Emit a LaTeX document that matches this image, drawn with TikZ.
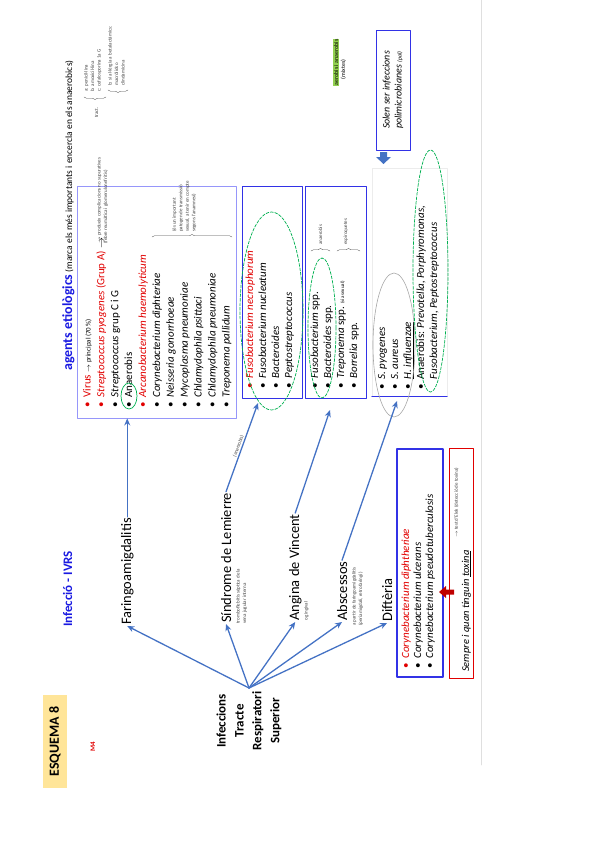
\documentclass[tikz,border=0pt]{standalone}
\usepackage{fontspec}
\setmainfont{Carlito}
\usetikzlibrary{arrows.meta,decorations.pathreplacing,positioning}
\definecolor{hblue}{RGB}{25,25,225}
\definecolor{arrblue}{RGB}{68,114,196}
\definecolor{boxblue}{RGB}{50,50,230}
\definecolor{boxlight}{RGB}{150,150,250}
\definecolor{ellgreen}{RGB}{0,176,80}
\definecolor{hlgreen}{RGB}{146,208,80}
\definecolor{esqyellow}{RGB}{255,229,153}
\definecolor{tred}{RGB}{225,0,0}
\begin{document}
\begin{tikzpicture}[x=1bp, y=-1bp, line join=round, line cap=round, >={Stealth[length=7bp,width=6bp]},
	lbl/.style={rotate=90, anchor=base west, inner sep=1pt},
	dis/.style={lbl, font=\fontsize{14.5}{17}\selectfont},
	item/.style={lbl, font=\fontsize{11}{13}\selectfont},
	note/.style={rotate=90, anchor=north west, inner sep=0pt, align=left, text=black!75, font=\fontsize{5}{6.5}\selectfont},
	arr/.style={->, draw=arrblue, line width=1.3pt},
	boxb/.style={draw=boxblue, line width=0.9pt, inner sep=0pt},
	elli/.style={draw=ellgreen, line width=0.7pt, dash pattern=on 3pt off 1.5pt},
	brc/.style={decorate, decoration={brace, amplitude=2.5pt}, draw=black!70, line width=0.4pt}]
	\useasboundingbox (0,0) rectangle (599,848);
	\draw[gray!25, line width=0.8pt] (481,0)--(481,765);
	% titols
	\node[fill=esqyellow, rotate=90, minimum width=93bp, minimum height=24bp, inner sep=0pt, font=\bfseries\fontsize{14}{16}\selectfont] (esq) at (55,741.5) {ESQUEMA 8};
	\node[lbl, text=tred, font=\bfseries\fontsize{7}{8}\selectfont] (m4) at (95,753) {M4};
	\node[lbl, text=hblue, font=\bfseries\fontsize{13}{15}\selectfont] (titol) at (72,628) {Infecció - IVRS};
	\node[lbl] (agents) at (72,372) {{\bfseries\color{hblue}\fontsize{14}{16}\selectfont agents etiològics} {\fontsize{9.5}{11}\selectfont (marca els més importants i encercla en els anaerobics)}};
	% tractament
	\node[note, anchor=base west] (tract) at (98,118) {tract.};
	\draw[brc] (106,97)--(84,97);
	\node[note] (tr1) at (84,92) {a: penicil·lina\\b: amoxicil·lina\\c: cefalosporina 1a G};
	\draw[brc] (128,90)--(108,90);
	\node[note] (tr2) at (108,86) {b: si al·lèrgia a betalactàmics:\\macròlids o\\clindamicina};
	% caixes
	\node[boxb, draw=boxlight, minimum width=159bp, minimum height=232bp] (box1) at (156.5,302) {};
	\node[boxb, minimum width=60bp, minimum height=212bp] (box2) at (272,292) {};
	\node[boxb, minimum width=61bp, minimum height=212bp] (box3) at (335.5,292) {};
	\node[draw=gray!15, line width=0.5pt, minimum width=75bp, minimum height=228bp, inner sep=0pt] (box4) at (409.5,282) {};
	\draw[boxblue, line width=0.9pt] (box4.south west)--(box4.south east);
	\node[boxb, line width=1.2pt, minimum width=46bp, minimum height=228bp] (boxd) at (420,563) {};
	\node[draw=tred, line width=0.9pt, minimum width=24bp, minimum height=230bp, inner sep=0pt] (boxt) at (461,563) {};
	% llistes
	\foreach \i/\col/\txt in {0/tred/{\textcolor{tred}{Virus} {\fontsize{7}{8}\selectfont $\rightarrow$ principal (70\,\%)}},
		1/tred/{\textcolor{tred}{\textit{Streptococcus pyogenes} (Grup A)} $\rightarrow$},
		2/black/{\textit{Streptococcus} grup C i G},
		3/black/{Anaerobis},
		4/tred/{\textcolor{tred}{\textit{Arcanobacterium haemolyticum}}},
		5/black/{\textit{Corynebacterium diphteriae}},
		6/black/{\textit{Neisseria gonorrhoeae}},
		7/black/{\textit{Mycoplasma pneumoniae}},
		8/black/{\textit{Chlamydophila psittaci}},
		9/black/{\textit{Chlamydophila pneumoniae}},
		10/black/{\textit{Treponema pallidum}}}
		\node[item] (ag1-\i) at ({90.5+13.9*\i},409) {\textcolor{\col}{\textbullet}\hspace{5pt}\txt};
	\node[note] (pyonote) at (97,244) {$\rightarrow$ produeix complicacions no supuratives\\(febre reumàtica i glomerulonefritis)};
	\draw[ellgreen, line width=0.7pt] (129,396) ellipse [x radius=8bp, y radius=13bp];
	\draw[brc] (152,237)--(232,237);
	\node[note] (b1note) at (172,232) {(és un important\\patogen de transmissió\\sexual, a tenir en compte\\segons l'anamnesi)};
	\foreach \i/\col/\txt in {0/tred/{\textcolor{tred}{\textit{Fusobacterium necrophorum}}},
		1/black/{\textit{Fusobacterium nucleatum}},
		2/black/{\textit{Bacteroides}},
		3/black/{\textit{Peptostreptococcus}}}
		\node[item] (ag2-\i) at ({253+13*\i},390) {\textcolor{\col}{\textbullet}\hspace{5pt}\txt};
	\draw[elli] (271.5,311) ellipse [x radius=31.5bp, y radius=99bp];
	\foreach \i/\txt in {0/{\textit{Fusobacterium} spp.},
		1/{\textit{Bacteroides} spp.},
		2/{\textit{Treponema} spp. {\fontsize{5}{6}\selectfont (via sexual)}},
		3/{\textit{Borrelia} spp.}}
		\node[item] (ag3-\i) at ({318+13*\i},390) {\textbullet\hspace{5pt}\txt};
	\draw[elli] (322,328) ellipse [x radius=14bp, y radius=70bp];
	\draw[brc] (311,251)--(330,251);
	\node[note, anchor=base west] (anae) at (322,245) {anaerobis};
	\draw[brc] (337,251)--(360,251);
	\node[note, anchor=base west] (espi) at (347,245) {espiroquetes};
	\foreach \i/\txt in {0/{\textit{S. pyogenes}},
		1/{\textit{S. aureus}},
		2/{\underline{\textit{H. influenzae}}},
		3/{Anaerobis: \textit{Prevotella, Porphyromonas,}}}
		\node[item] (ag4-\i) at ({385+13*\i},391) {\textbullet\hspace{5pt}\txt};
	\node[item] (ag4-4) at (437,391) {\phantom{\textbullet}\hspace{5pt}\textit{Fusobacterium, Peptostreptococcus}};
	\draw[gray!70, line width=0.6pt] (394,345) ellipse [x radius=21bp, y radius=72bp];
	\draw[elli] (430.5,271) ellipse [x radius=17.5bp, y radius=121bp];
	\node[boxb, rotate=90, minimum width=120bp, minimum height=34bp, align=left, font=\itshape\fontsize{10}{12}\selectfont] (solen) at (393,90) {Solen ser infeccions\\polimicrobianes {\fontsize{6}{7}\selectfont(pal)}};
	\fill[arrblue] (380,152)--(387,152)--(387,157)--(391,157)--(383.5,164)--(376,157)--(380,157)--cycle;
	\node[lbl, fill=hlgreen, inner sep=0.6pt, font=\fontsize{6}{7}\selectfont] (mixt) at (338,86) {aerobis i anaerobis};
	\node[lbl, inner sep=0.6pt, font=\fontsize{6}{7}\selectfont] (mixt2) at (345,80) {(mixtes)};
	% malalties
	\node[rotate=90, anchor=east, align=center, font=\bfseries\fontsize{13}{18}\selectfont] (itrs) at (249,688) {Infeccions\\Tracte\\Respiratori\\Superior};
	\node[dis] (faringo) at (131,626) {Faringoamigdalitis};
	\node[dis] (lemierre) at (231,624) {Síndrome de Lemierre};
	\node[dis] (vincent) at (299,622) {Angina de Vincent};
	\node[dis] (absc) at (347,622) {Abscessos};
	\node[dis] (dift) at (392,623) {Diftèria};
	\node[note] (lemnote) at (236,624) {tromboflebitis sèptica de la\\vena jugular interna};
	\node[note] (vinnote) at (304,621) {o gingival};
	\node[note] (absnote) at (352,626) {a partir de faringoamigdalitis\\(periamigdalí, retrofaringi)};
	\foreach \n in {faringo,lemierre,vincent,absc,dift}
		\draw[arr] (itrs.east)--(\n.west);
	\coordinate (tipL) at (258,403);
	\coordinate (tipV) at (330,410);
	\coordinate (tipA) at (397,401);
	\draw[arr] (faringo.east)--(faringo.east |- box1.south);
	\draw[arr] (lemierre.east)-- node[midway, sloped, above, inner sep=1pt, text=black!75, font=\fontsize{5}{6}\selectfont] {(anaerobis)} (tipL);
	\draw[arr] (vincent.east)--(tipV);
	\draw[arr] (absc.east)--(tipA);
	% difteria
	\foreach \i/\col/\txt in {0/tred/{\textcolor{tred}{\textit{Corynebacterium diphtheriae}}},
		1/black/{\textit{Corynebacterium ulcerans}},
		2/black/{\textit{Corynebacterium pseudotuberculosis}}}
		\node[item] (cor-\i) at ({409+12*\i},670) {\textcolor{\col}{\textbullet}\hspace{5pt}\txt};
	\node[lbl, font=\itshape\fontsize{10.5}{12}\selectfont] (toxtxt) at (469,673) {Sempre i quan tinguin \underline{toxina}};
	\node[note] (toxnote) at (454,538) {$\rightarrow$ test d'Elek (detecció de toxina)};
	\fill[tred!85!black] (439,592)--(446,586)--(446,589.5)--(454,589.5)--(454,594.5)--(446,594.5)--(446,598)--cycle;
\end{tikzpicture}
\end{document}
